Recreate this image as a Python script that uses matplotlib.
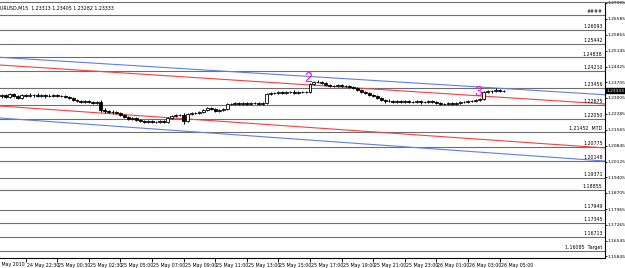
import matplotlib
matplotlib.use('Agg')
import matplotlib.pyplot as plt
import matplotlib.transforms as mtransforms
import matplotlib.font_manager as fm

# look for a narrow face, MT4 text is very condensed
narrow_name = None
small = 3.1
for pat, size in [('LiberationSansNarrow-Regular', 4.0), ('DejaVuSansCondensed.ttf', 3.4)]:
    hits = [f for f in fm.findSystemFonts() if pat in f]
    if hits:
        fm.fontManager.addfont(hits[0])
        narrow_name = fm.FontProperties(fname=hits[0]).get_name()
        small = size
        break
FONT = [narrow_name, 'DejaVu Sans'] if narrow_name else ['DejaVu Sans']
plt.rcParams['font.family'] = FONT
axis_size = small * 0.94

# EURUSD M15 candles
first_open = 1.23093
closes = [
    1.23138, 1.23048, 1.23184, 1.23093, 1.23003, 1.23138,
    1.23093, 1.23138, 1.23138, 1.23093, 1.23138, 1.23093, 1.23093, 1.23138, 1.23093, 1.23093, 1.23048,
    1.23003, 1.22912, 1.22867, 1.22821, 1.22867, 1.22821, 1.22776, 1.22821,
    1.22459, 1.22414, 1.22368, 1.22368, 1.22323,
    1.22233, 1.22142, 1.22051, 1.22097, 1.22006,
    1.21961, 1.21915, 1.21961, 1.21915, 1.21915, 1.21961, 1.21915,
    1.22097, 1.22187, 1.22233, 1.22233,
    1.21961, 1.22278,
    1.22323, 1.22323, 1.22368,
    1.22459, 1.22550, 1.22504,
    1.22414, 1.22459, 1.22504,
    1.22731,
    1.22731, 1.22776, 1.22731, 1.22776, 1.22731, 1.22776, 1.22776, 1.22731, 1.22776,
    1.23184,
    1.23229, 1.23229, 1.23274, 1.23229, 1.23274, 1.23274, 1.23229, 1.23274, 1.23274,
    1.23274, 1.23637,
    1.23727, 1.23727, 1.23682,
    1.23591, 1.23546, 1.23546, 1.23591, 1.23546, 1.23546, 1.23501,
    1.23455,
    1.23365, 1.23274, 1.23229, 1.23138, 1.23093, 1.23003,
    1.22912,
    1.22867, 1.22867, 1.22821, 1.22867, 1.22821, 1.22867, 1.22821, 1.22821, 1.22867, 1.22821, 1.22821, 1.22867, 1.22821,
    1.22776, 1.22731, 1.22731, 1.22776, 1.22731,
    1.22776, 1.22821, 1.22821, 1.22867, 1.22867, 1.22912,
    1.22957, 1.23274,
    1.23320, 1.23320, 1.23365, 1.23320, 1.23333,
]
# wick sizes in pips above / below the body
wick_hi = [
    6, 4, 5, 3, 4, 5, 3, 7, 6, 7, 5, 6,
    7, 6, 4, 5, 3, 4, 5, 4, 6, 4, 5, 3,
    4, 8, 7, 6, 7, 5, 4, 5, 4, 6, 3, 4,
    3, 4, 5, 3, 4, 4, 5, 4, 3, 5, 10, 4,
    5, 4, 6, 3, 4, 5, 4, 3, 4, 5, 3, 4,
    5, 4, 3, 4, 5, 4, 3, 4, 4, 5, 6, 4,
    5, 6, 7, 6, 5, 4, 6, 5, 7, 6, 4, 3,
    4, 5, 3, 4, 3, 4, 3, 4, 3, 3, 4, 3,
    4, 6, 7, 5, 6, 4, 5, 3, 4, 5, 6, 4,
    5, 4, 3, 4, 5, 3, 4, 4, 3, 5, 4, 3,
    4, 5, 4, 3, 6, 7, 6, 5,
]
wick_lo = [
    7, 5, 4, 6, 3, 5, 4, 6, 7, 5, 6, 7,
    5, 6, 5, 4, 5, 3, 4, 5, 3, 5, 4, 6,
    5, 7, 8, 6, 7, 5, 4, 3, 5, 4, 5, 3,
    4, 5, 3, 4, 5, 3, 4, 5, 4, 3, 12, 5,
    4, 5, 3, 4, 5, 3, 5, 4, 3, 5, 4, 3,
    4, 5, 4, 3, 4, 5, 4, 6, 5, 4, 5, 6,
    5, 4, 6, 5, 6, 5, 4, 3, 4, 5, 3, 4,
    3, 4, 5, 3, 4, 3, 4, 3, 4, 5, 3, 4,
    5, 7, 6, 5, 6, 5, 6, 4, 5, 6, 7, 5,
    4, 5, 4, 3, 4, 5, 4, 3, 4, 5, 4, 3,
    5, 4, 3, 4, 7, 6, 5, 4,
]

# horizontal levels drawn on the chart
level_values = [1.26762, 1.26093, 1.25442, 1.24838, 1.24210, 1.23456, 1.22675, 1.22050,
                1.21452, 1.20775, 1.20148, 1.19371, 1.18855, 1.17949, 1.17345, 1.16713, 1.16085]
level_labels = ['####', '1.26093', '1.25442', '1.24838', '1.24210', '1.23456', '1.22675', '1.22050',
                '1.21452  MTD', '1.20775', '1.20148', '1.19371', '1.18855', '1.17949', '1.17345',
                '1.16713', '1.16085  Target']

# channel trendlines: (bar, price) at both ends
red_upper = ([-1, 154], [1.24502, 1.22717])
red_lower = ([-1, 154], [1.22645, 1.20725])
blue_upper = ([-1, 154], [1.24850, 1.23134])
blue_lower = ([-1, 154], [1.22101, 1.20131])

price_ticks = ['1.27305', '1.26585', '1.25865', '1.25145', '1.24425', '1.23705', '1.23005', '1.22285',
               '1.21565', '1.20845', '1.20125', '1.19405', '1.18705', '1.17965', '1.17265', '1.16545',
               '1.15845']
time_tick_bars = [6, 14, 22, 30, 38, 46, 54, 62, 70, 78, 86, 94, 102, 110, 118, 126]
time_labels = ['24 May 22:30', '25 May 00:30', '25 May 02:30', '25 May 05:00', '25 May 07:00',
               '25 May 09:00', '25 May 11:00', '25 May 13:00', '25 May 15:00', '25 May 17:00',
               '25 May 19:00', '25 May 21:00', '25 May 23:00', '26 May 01:00', '26 May 03:00',
               '26 May 05:00']

wave_marks = ['2', '3']
wave_bars = [77.5, 120.5]
wave_prices = [1.23890, 1.23290]

last_price = 1.23333

fig = plt.figure(figsize=(6.25, 2.68), dpi=100)
ax = fig.add_axes([0, 10 / 268, 605 / 625, 256 / 268])
ax.set_xlim(-0.5, 152.7)
ax.set_ylim(1.15756, 1.27350)

# levels
for v, lab in zip(level_values, level_labels):
    ax.axhline(v, color='#6e6e6e', lw=0.8, zorder=1)
    ax.text(0.996, v + 0.0004, lab, transform=ax.get_yaxis_transform(), ha='right', va='bottom',
            fontsize=small, color='black')

# trendlines
for xs, ys in [red_upper, red_lower]:
    ax.plot(xs, ys, color='#ff3b3b', lw=0.8, zorder=2)
for xs, ys in [blue_upper, blue_lower]:
    ax.plot(xs, ys, color='#5b7fe6', lw=0.8, zorder=2)

# candles
opens = [first_open] + closes[:-1]
for i, (o, c) in enumerate(zip(opens, closes)):
    top = max(o, c)
    bot = min(o, c)
    ax.vlines(i, bot - wick_lo[i] * 0.0001, top + wick_hi[i] * 0.0001, color='black', lw=0.7, zorder=3)
    face = 'white' if c > o else 'black'
    ax.bar(i, top - bot, bottom=bot, width=0.75, color=face, edgecolor='black', lw=0.6, zorder=4)

for m, bx, p in zip(wave_marks, wave_bars, wave_prices):
    ax.text(bx, p, m, color='#ff00ff', fontsize=10, ha='center', va='center',
            family=['Liberation Sans', 'DejaVu Sans'], zorder=5)

# symbol title
ax.text(0.0, 0.985, 'URUSD,M15  1.23313 1.23405 1.23282 1.23333', transform=ax.transAxes,
        ha='left', va='top', fontsize=small)

# axes
for s in ['top', 'left']:
    ax.spines[s].set_visible(False)
ax.spines['right'].set_linewidth(0.8)
ax.spines['bottom'].set_linewidth(0.8)
ax.yaxis.tick_right()
ax.set_yticks([float(t) for t in price_ticks])
ax.set_yticklabels(price_ticks)
ax.tick_params(axis='y', length=1.5, pad=0.3, labelsize=axis_size, width=0.6)
ax.set_xticks(time_tick_bars)
ax.set_xticklabels(time_labels)
ax.tick_params(axis='x', length=3, pad=0.5, labelsize=small, width=0.6)
for lab in ax.get_xticklabels():
    lab.set_ha('left')
    lab.set_transform(lab.get_transform() + mtransforms.ScaledTranslation(1 / 100, 0, fig.dpi_scale_trans))
ax.text(-2.0, -0.015, '24 May 2010', transform=ax.get_xaxis_transform(), ha='left', va='top',
        fontsize=small, clip_on=False)

# current price box
ax.annotate('1.23333', xy=(1.0, last_price), xycoords=('axes fraction', 'data'),
            xytext=(1.2, 0), textcoords='offset points', ha='left', va='center', fontsize=axis_size,
            color='white', bbox=dict(boxstyle='square,pad=0.1', fc='black', ec='black'))

fig.add_artist(plt.Line2D([0, 1], [1 - 2 / 268, 1 - 2 / 268], color='#6e6e6e', lw=0.8))

fig.savefig('out.png', dpi=100)
